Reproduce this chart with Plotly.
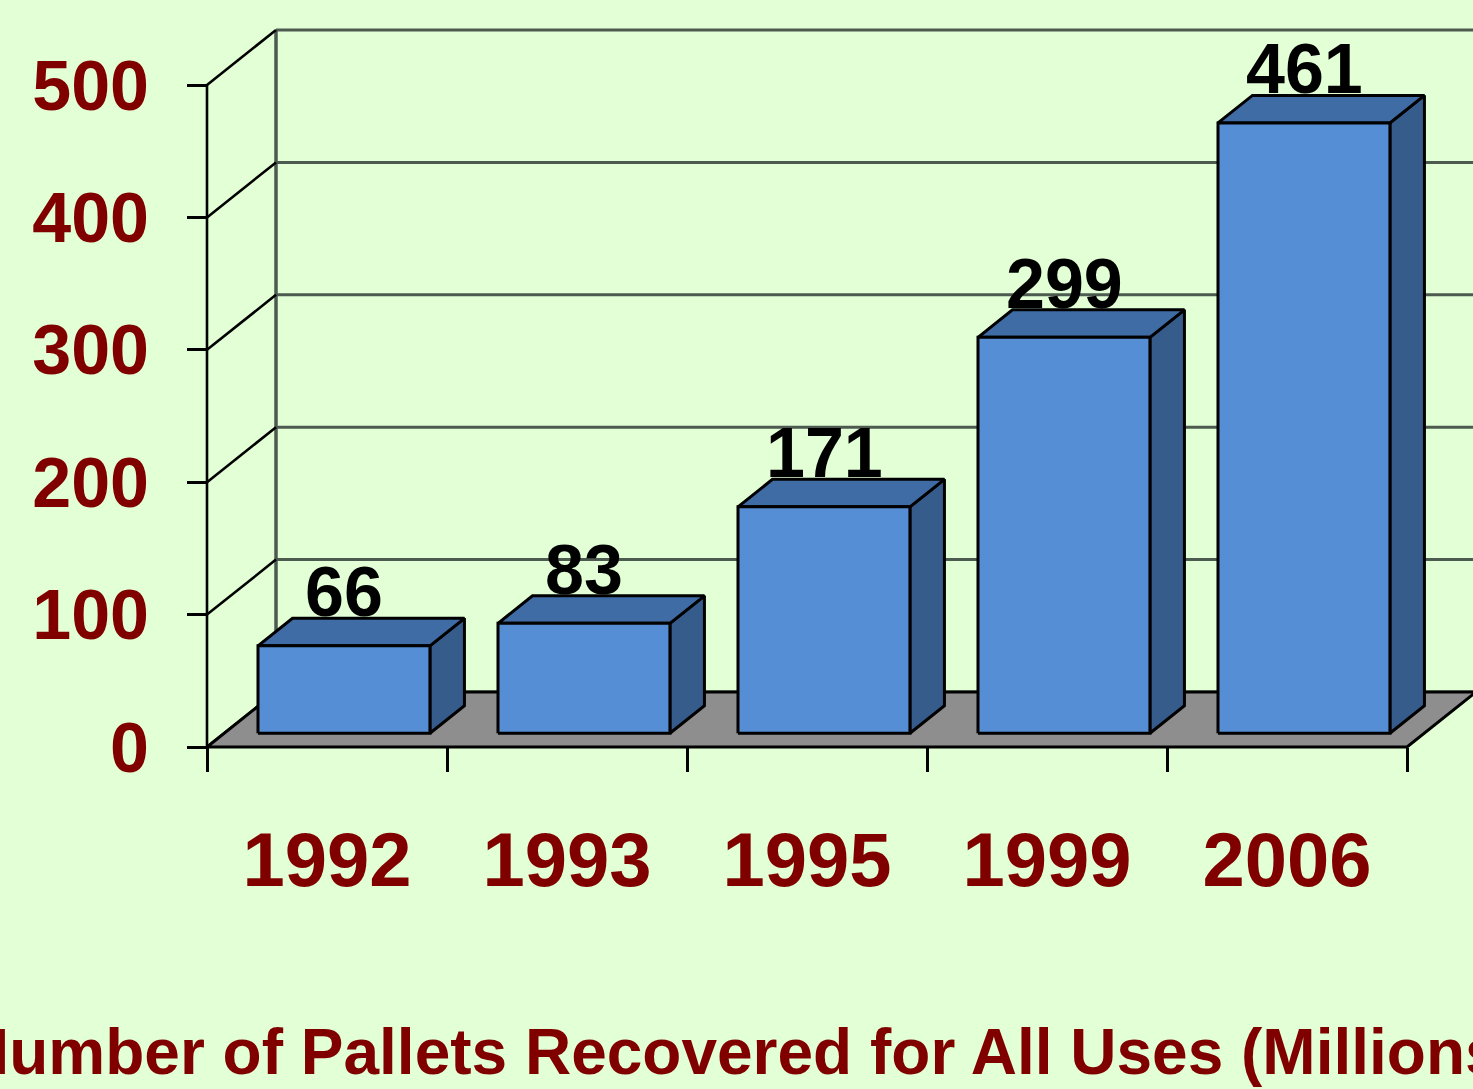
import plotly.graph_objects as go

# ---- data ----
years = ["1992", "1993", "1995", "1999", "2006"]
values = [66, 83, 171, 299, 461]
y_ticks = [0, 100, 200, 300, 400, 500]
title_text = "Number of Pallets Recovered for All Uses (Millions)"

# ---- style / geometry constants ----
BG = "#E2FFD6"
DARKRED = "#800000"
FRONT = "#558ED5"
TOP = "#406CA6"
SIDE = "#365C8C"
FLOOR = "#8E8E8E"
GRID = "#4D5A4F"
FONT = "Liberation Sans, Arial, sans-serif"

W, H = 1473, 1089
AX0_PX, AX0_PY = 207, 747          # pixel of (x=0, y=0)
ML, MR, MT, MB = 180, 0, 0, 299
px_per_x = 240.0
px_per_y = 132.4 / 100.0
DX = 69 / px_per_x          # wall depth, x units
DY = 55 / px_per_y          # wall depth, value units
BAR_L, BAR_R = 0.1406, 0.857
plot_w = W - ML - MR
plot_h = H - MT - MB
x_min = -(AX0_PX - ML) / px_per_x
x_max = x_min + plot_w / px_per_x
y_min = -((H - MB) - AX0_PY) / px_per_y
y_max = y_min + plot_h / px_per_y
n = len(years)

fig = go.Figure()

def poly(xs, ys, fill, lc, lw):
    fig.add_trace(go.Scatter(x=xs, y=ys, mode="lines", fill="toself",
                             fillcolor=fill, line=dict(color=lc, width=lw),
                             hoverinfo="skip", showlegend=False))

def line(xs, ys, color, width):
    fig.add_trace(go.Scatter(x=xs, y=ys, mode="lines",
                             line=dict(color=color, width=width),
                             hoverinfo="skip", showlegend=False))

# back wall gridlines
gx, gy = [], []
for t in y_ticks:
    gx += [DX, x_max + 1, None]
    gy += [t + DY, t + DY, None]
line(gx, gy, GRID, 3)
# back-left vertical edge
line([DX, DX], [DY, y_ticks[-1] + DY], GRID, 3.5)
# side wall diagonals
sx, sy = [], []
for t in y_ticks:
    sx += [0, DX, None]
    sy += [t, t + DY, None]
line(sx, sy, "black", 2.6)
# front vertical axis line
line([0, 0], [0, y_ticks[-1]], "black", 2.6)

# floor
poly([0, n, n + DX, DX, 0], [0, 0, DY, DY, 0], FLOOR, "black", 3)

# bars
hx, hy = 0.5 * DX, 0.5 * DY
ox, oy = 0.25 * DX, 0.25 * DY
fx, fy, tx, ty, rx, ry = [], [], [], [], [], []
for i, v in enumerate(values):
    x0, x1 = i + BAR_L + ox, i + BAR_R + ox
    y0, y1 = oy, v + oy
    fx += [x0, x1, x1, x0, x0, None]
    fy += [y0, y0, y1, y1, y0, None]
    tx += [x0, x1, x1 + hx, x0 + hx, x0, None]
    ty += [y1, y1, y1 + hy, y1 + hy, y1, None]
    rx += [x1, x1 + hx, x1 + hx, x1, x1, None]
    ry += [y0, y0 + hy, y1 + hy, y1, y0, None]
poly(rx, ry, SIDE, "black", 3)
poly(tx, ty, TOP, "black", 3)
poly(fx, fy, FRONT, "black", 3)

# value labels
for i, v in enumerate(values):
    fig.add_annotation(x=i + 0.5 + ox, y=v + 0.75 * DY, text=str(v),
                       showarrow=False, xanchor="center", yanchor="bottom",
                       yshift=-15,
                       font=dict(family=FONT, size=70, color="black", weight="bold"))

# bottom title
fig.add_annotation(xref="paper", yref="paper", x=(742 - ML) / plot_w,
                   y=(plot_h - 1052) / plot_h, text=title_text, showarrow=False,
                   xanchor="center", yanchor="middle",
                   font=dict(family=FONT, size=64, color=DARKRED, weight="bold"))

fig.update_xaxes(range=[x_min, x_max], showgrid=False, zeroline=False, showline=False,
                 anchor="free", position=(-y_min) / (y_max - y_min),
                 tickmode="array", tickvals=[i + 0.5 for i in range(n)], ticktext=years,
                 ticks="", ticklabelstandoff=62,
                 tickfont=dict(family=FONT, size=76, color=DARKRED, weight="bold"),
                 minor=dict(tickmode="array", tickvals=list(range(n + 1)),
                            ticks="outside", ticklen=24, tickwidth=2.6, tickcolor="black",
                            showgrid=False))
fig.update_yaxes(range=[y_min, y_max], showgrid=False, zeroline=False, showline=False,
                 anchor="free", position=(-x_min) / (x_max - x_min),
                 tickmode="array", tickvals=y_ticks, ticktext=[str(t) for t in y_ticks],
                 ticks="outside", ticklen=20, tickwidth=2.6, tickcolor="black",
                 ticklabelstandoff=24,
                 tickfont=dict(family=FONT, size=70, color=DARKRED, weight="bold"))

fig.update_layout(width=W, height=H, margin=dict(l=ML, r=MR, t=MT, b=MB, pad=0),
                  paper_bgcolor=BG, plot_bgcolor=BG, showlegend=False)

fig.write_html("out.html", config={"displayModeBar": False},
               post_script="document.body.style.margin='0';"
                           "document.body.style.overflow='hidden';"
                           "document.body.style.background='" + BG + "';")
